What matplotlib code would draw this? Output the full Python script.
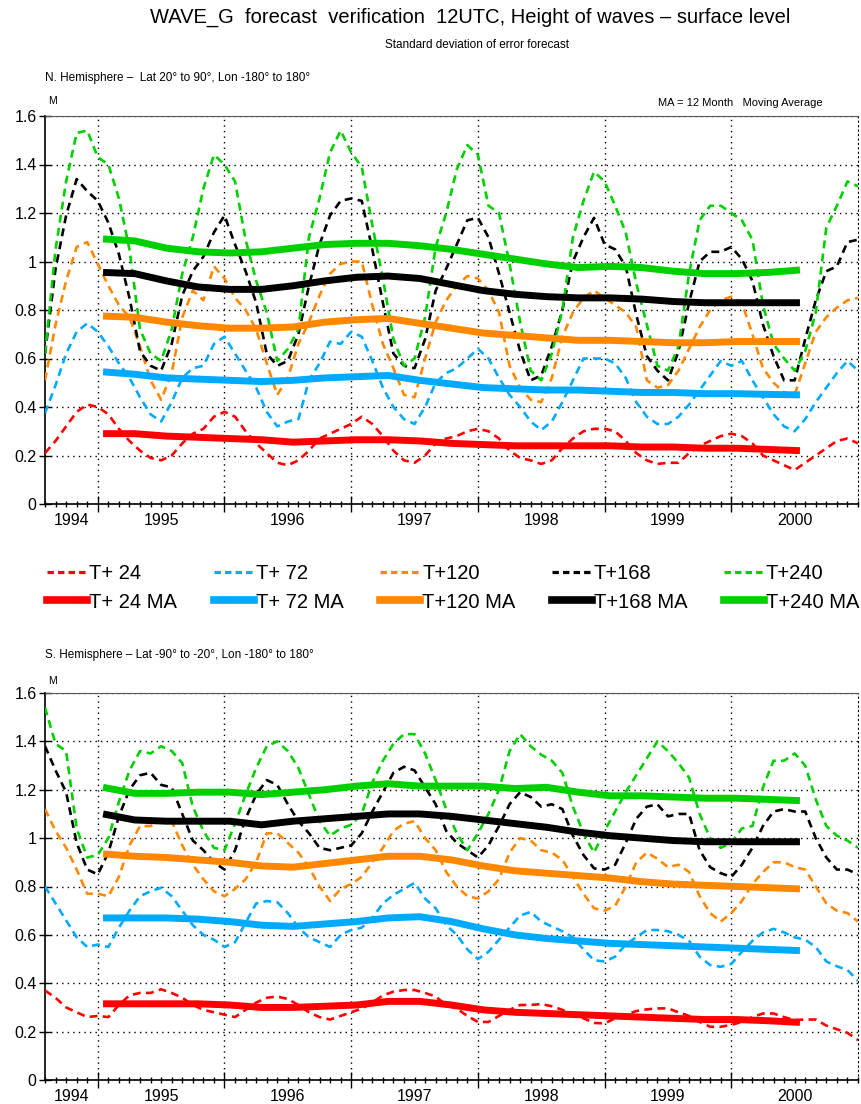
import numpy as np
import matplotlib
matplotlib.use('Agg')
import matplotlib.pyplot as plt
from matplotlib.lines import Line2D
from matplotlib.ticker import MultipleLocator

plt.rcParams['font.family'] = ['Liberation Sans', 'DejaVu Sans']

# ── Data: monthly values Aug 1994 .. Jan 2001 (78 months) ──────────────────────
START_YEAR, START_MONTH = 1994, 8
N_MONTHS = 78
STEPS = ['T+ 24', 'T+ 72', 'T+120', 'T+168', 'T+240']
COLORS = ['#ff0000', '#00aaff', '#ff8800', '#000000', '#00d000']

# N. Hemisphere
nh_t24 = [0.21, 0.26, 0.32, 0.38, 0.41, 0.40, 0.37, 0.31, 0.26, 0.22, 0.19, 0.18,
          0.20, 0.25, 0.29, 0.31, 0.36, 0.38, 0.36, 0.30, 0.25, 0.21, 0.17, 0.16,
          0.18, 0.22, 0.27, 0.29, 0.31, 0.33, 0.36, 0.33, 0.28, 0.22, 0.18, 0.17,
          0.20, 0.25, 0.27, 0.28, 0.30, 0.31, 0.30, 0.27, 0.22, 0.19, 0.18, 0.165,
          0.18, 0.23, 0.27, 0.30, 0.31, 0.31, 0.30, 0.26, 0.21, 0.18, 0.165, 0.17,
          0.17, 0.21, 0.24, 0.26, 0.28, 0.29, 0.28, 0.25, 0.20, 0.18, 0.16, 0.14,
          0.17, 0.20, 0.23, 0.26, 0.27, 0.25]
nh_t72 = [0.375, 0.49, 0.62, 0.71, 0.745, 0.71, 0.65, 0.58, 0.52, 0.44, 0.37, 0.34,
          0.42, 0.52, 0.56, 0.57, 0.66, 0.69, 0.62, 0.55, 0.48, 0.38, 0.32, 0.34,
          0.35, 0.51, 0.58, 0.67, 0.66, 0.71, 0.69, 0.59, 0.48, 0.40, 0.35, 0.33,
          0.40, 0.50, 0.54, 0.56, 0.60, 0.64, 0.60, 0.52, 0.45, 0.40, 0.34, 0.305,
          0.34, 0.42, 0.51, 0.60, 0.60, 0.60, 0.58, 0.52, 0.42, 0.36, 0.33, 0.33,
          0.36, 0.41, 0.47, 0.53, 0.59, 0.57, 0.59, 0.51, 0.44, 0.37, 0.32, 0.30,
          0.35, 0.42, 0.48, 0.54, 0.59, 0.55]
nh_t120 = [0.51, 0.74, 0.92, 1.06, 1.08, 0.99, 0.90, 0.82, 0.77, 0.65, 0.51, 0.43,
           0.54, 0.77, 0.88, 0.84, 0.98, 0.93, 0.85, 0.80, 0.72, 0.58, 0.45, 0.52,
           0.66, 0.75, 0.86, 0.95, 0.99, 1.00, 1.00, 0.82, 0.66, 0.56, 0.45, 0.44,
           0.60, 0.75, 0.84, 0.90, 0.94, 0.93, 0.88, 0.79, 0.57, 0.48, 0.43, 0.42,
           0.52, 0.69, 0.79, 0.85, 0.88, 0.85, 0.82, 0.79, 0.73, 0.51, 0.48, 0.49,
           0.55, 0.64, 0.73, 0.80, 0.84, 0.855, 0.83, 0.70, 0.56, 0.50, 0.46, 0.45,
           0.58, 0.71, 0.77, 0.81, 0.84, 0.85]
nh_t168 = [0.62, 0.97, 1.19, 1.34, 1.29, 1.25, 1.16, 1.03, 0.85, 0.63, 0.57, 0.55,
           0.66, 0.86, 0.96, 1.02, 1.12, 1.19, 1.07, 0.96, 0.83, 0.62, 0.57, 0.59,
           0.70, 0.90, 1.07, 1.19, 1.25, 1.26, 1.25, 1.05, 0.83, 0.62, 0.57, 0.56,
           0.68, 0.88, 0.97, 1.07, 1.17, 1.18, 1.10, 0.95, 0.79, 0.63, 0.51, 0.53,
           0.65, 0.80, 1.00, 1.10, 1.18, 1.07, 1.05, 0.98, 0.78, 0.61, 0.55, 0.51,
           0.63, 0.83, 1.00, 1.04, 1.04, 1.06, 1.01, 0.92, 0.74, 0.61, 0.51, 0.51,
           0.68, 0.84, 0.96, 0.98, 1.08, 1.09]
nh_t240 = [0.62, 1.05, 1.33, 1.53, 1.54, 1.43, 1.40, 1.26, 1.05, 0.72, 0.62, 0.59,
           0.72, 0.95, 1.10, 1.30, 1.44, 1.40, 1.33, 1.09, 0.92, 0.79, 0.59, 0.64,
           0.72, 1.10, 1.26, 1.45, 1.54, 1.45, 1.39, 1.15, 0.93, 0.68, 0.57, 0.60,
           0.77, 1.06, 1.20, 1.38, 1.48, 1.44, 1.23, 1.20, 0.99, 0.75, 0.55, 0.51,
           0.62, 0.80, 1.10, 1.25, 1.37, 1.33, 1.23, 1.12, 0.91, 0.74, 0.57, 0.55,
           0.65, 0.95, 1.17, 1.23, 1.23, 1.20, 1.17, 1.09, 0.82, 0.66, 0.60, 0.55,
           0.63, 0.79, 1.14, 1.23, 1.33, 1.31]

# 12-month moving averages, read every 3 months (centred, Feb 1995 .. Jul 2000)
nh_t24_ma = [0.29, 0.29, 0.28, 0.275, 0.27, 0.265, 0.255, 0.26, 0.265, 0.265, 0.26, 0.25,
             0.245, 0.24, 0.24, 0.24, 0.24, 0.235, 0.235, 0.23, 0.23, 0.225, 0.22]
nh_t72_ma = [0.545, 0.535, 0.52, 0.515, 0.51, 0.505, 0.51, 0.52, 0.525, 0.53, 0.51, 0.495,
             0.48, 0.475, 0.47, 0.47, 0.465, 0.46, 0.46, 0.455, 0.455, 0.452, 0.45]
nh_t120_ma = [0.775, 0.77, 0.75, 0.735, 0.725, 0.725, 0.73, 0.75, 0.76, 0.765, 0.745, 0.725,
              0.705, 0.695, 0.685, 0.675, 0.675, 0.67, 0.665, 0.665, 0.67, 0.67, 0.67]
nh_t168_ma = [0.955, 0.95, 0.92, 0.895, 0.885, 0.885, 0.90, 0.92, 0.935, 0.94, 0.93, 0.905,
              0.88, 0.865, 0.855, 0.85, 0.85, 0.845, 0.835, 0.83, 0.83, 0.83, 0.83]
nh_t240_ma = [1.093, 1.085, 1.055, 1.04, 1.035, 1.04, 1.055, 1.07, 1.075, 1.075, 1.065, 1.05,
              1.03, 1.01, 0.99, 0.975, 0.98, 0.975, 0.96, 0.95, 0.95, 0.955, 0.965]

# S. Hemisphere
sh_t24 = [0.37, 0.34, 0.30, 0.28, 0.26, 0.265, 0.26, 0.31, 0.35, 0.36, 0.36, 0.375,
          0.36, 0.34, 0.31, 0.29, 0.28, 0.27, 0.26, 0.29, 0.32, 0.34, 0.345, 0.335,
          0.31, 0.28, 0.26, 0.25, 0.265, 0.28, 0.295, 0.32, 0.35, 0.365, 0.372, 0.372,
          0.36, 0.345, 0.31, 0.295, 0.265, 0.24, 0.24, 0.265, 0.29, 0.31, 0.31, 0.314,
          0.305, 0.29, 0.27, 0.255, 0.236, 0.234, 0.255, 0.27, 0.285, 0.292, 0.296, 0.296,
          0.28, 0.265, 0.24, 0.22, 0.22, 0.228, 0.24, 0.26, 0.275, 0.275, 0.26, 0.248,
          0.25, 0.25, 0.225, 0.21, 0.195, 0.165]
sh_t72 = [0.80, 0.73, 0.66, 0.59, 0.55, 0.56, 0.55, 0.63, 0.70, 0.76, 0.78, 0.795,
          0.76, 0.70, 0.64, 0.60, 0.58, 0.55, 0.57, 0.65, 0.73, 0.74, 0.735, 0.69,
          0.63, 0.59, 0.57, 0.55, 0.60, 0.62, 0.63, 0.67, 0.73, 0.765, 0.79, 0.815,
          0.75, 0.71, 0.64, 0.60, 0.54, 0.50, 0.53, 0.58, 0.63, 0.68, 0.695, 0.655,
          0.635, 0.615, 0.59, 0.54, 0.495, 0.49, 0.51, 0.56, 0.59, 0.62, 0.62, 0.615,
          0.60, 0.575, 0.51, 0.475, 0.468, 0.48, 0.53, 0.575, 0.61, 0.625, 0.61, 0.59,
          0.58, 0.55, 0.49, 0.47, 0.455, 0.41]
sh_t120 = [1.12, 1.03, 0.96, 0.87, 0.77, 0.77, 0.76, 0.84, 0.97, 1.05, 1.05, 1.07,
           1.07, 0.97, 0.89, 0.83, 0.78, 0.76, 0.79, 0.83, 0.90, 1.02, 1.02, 0.98,
           0.94, 0.88, 0.80, 0.74, 0.79, 0.81, 0.84, 0.90, 0.96, 1.03, 1.06, 1.07,
           1.00, 0.95, 0.86, 0.80, 0.76, 0.75, 0.78, 0.83, 0.94, 1.00, 0.99, 0.95,
           0.94, 0.91, 0.84, 0.77, 0.71, 0.70, 0.72, 0.80, 0.90, 0.94, 0.915, 0.88,
           0.89, 0.86, 0.76, 0.69, 0.655, 0.69, 0.74, 0.81, 0.86, 0.90, 0.90, 0.88,
           0.87, 0.80, 0.73, 0.70, 0.69, 0.655]
sh_t168 = [1.38, 1.28, 1.19, 0.98, 0.87, 0.85, 0.94, 1.09, 1.20, 1.26, 1.27, 1.22,
           1.21, 1.10, 0.99, 0.95, 0.90, 0.87, 0.95, 1.08, 1.18, 1.24, 1.22, 1.14,
           1.07, 1.02, 0.96, 0.95, 0.96, 0.97, 1.02, 1.11, 1.19, 1.27, 1.295, 1.28,
           1.21, 1.14, 1.03, 0.98, 0.95, 0.92, 0.97, 1.05, 1.14, 1.19, 1.17, 1.13,
           1.14, 1.12, 1.01, 0.93, 0.875, 0.87, 0.89, 0.98, 1.08, 1.13, 1.14, 1.09,
           1.10, 1.10, 0.95, 0.88, 0.855, 0.84, 0.89, 0.96, 1.05, 1.11, 1.12, 1.11,
           1.11, 1.00, 0.92, 0.87, 0.87, 0.85]
sh_t240 = [1.54, 1.39, 1.36, 1.04, 0.92, 0.93, 1.00, 1.15, 1.28, 1.36, 1.35, 1.38,
           1.36, 1.31, 1.13, 1.03, 0.96, 0.95, 1.06, 1.18, 1.29, 1.38, 1.40, 1.36,
           1.29, 1.18, 1.07, 1.01, 1.04, 1.055, 1.10, 1.23, 1.32, 1.39, 1.43, 1.43,
           1.35, 1.24, 1.12, 1.02, 0.95, 1.02, 1.10, 1.20, 1.36, 1.43, 1.38, 1.345,
           1.32, 1.27, 1.13, 1.02, 0.94, 1.03, 1.11, 1.19, 1.26, 1.33, 1.40, 1.36,
           1.31, 1.25, 1.10, 1.00, 0.96, 0.98, 1.04, 1.05, 1.21, 1.32, 1.32, 1.35,
           1.30, 1.16, 1.05, 1.01, 0.99, 0.96]

sh_t24_ma = [0.315, 0.315, 0.315, 0.315, 0.31, 0.30, 0.30, 0.305, 0.31, 0.325, 0.325, 0.31,
             0.29, 0.28, 0.275, 0.27, 0.265, 0.26, 0.255, 0.25, 0.25, 0.245, 0.238]
sh_t72_ma = [0.67, 0.67, 0.67, 0.665, 0.655, 0.64, 0.635, 0.645, 0.655, 0.67, 0.675, 0.655,
             0.625, 0.60, 0.585, 0.575, 0.565, 0.56, 0.555, 0.55, 0.545, 0.54, 0.535]
sh_t120_ma = [0.935, 0.925, 0.92, 0.91, 0.90, 0.885, 0.88, 0.895, 0.91, 0.925, 0.925, 0.91,
              0.885, 0.865, 0.855, 0.845, 0.835, 0.82, 0.81, 0.805, 0.80, 0.795, 0.79]
sh_t168_ma = [1.10, 1.075, 1.07, 1.07, 1.07, 1.055, 1.07, 1.08, 1.09, 1.10, 1.10, 1.09,
              1.075, 1.06, 1.045, 1.025, 1.01, 1.00, 0.99, 0.985, 0.985, 0.985, 0.985]
sh_t240_ma = [1.21, 1.185, 1.185, 1.19, 1.19, 1.18, 1.19, 1.20, 1.215, 1.225, 1.215, 1.215,
              1.215, 1.205, 1.21, 1.19, 1.175, 1.175, 1.17, 1.165, 1.165, 1.16, 1.155]

YEARS = [1994, 1995, 1996, 1997, 1998, 1999, 2000]
Y_TICKS = [0, 0.2, 0.4, 0.6, 0.8, 1.0, 1.2, 1.4, 1.6]
Y_LABELS = ['0', '0.2', '0.4', '0.6', '0.8', '1', '1.2', '1.4', '1.6']

# ── Time axes (decimal years) ─────────────────────────────────────────────────
t0 = START_YEAR + (START_MONTH - 1) / 12
t_month = t0 + np.arange(N_MONTHS) / 12
t_ma = t0 + np.arange(5.5, 72, 3) / 12
t_end = t_month[-1]


def draw_panel(ax, raw, ma):
    for vals, col in zip(raw, COLORS):
        ax.plot(t_month, vals, color=col, lw=1.9, ls=(0, (3, 2)),
                dash_capstyle='butt', zorder=3)
    for vals, col in zip(ma, COLORS):
        ax.plot(t_ma, vals, color=col, lw=5.0, solid_capstyle='butt', zorder=4)

    ax.set_xlim(t0, t_end)
    ax.set_ylim(0, 1.6)
    ax.set_yticks(Y_TICKS)
    ax.set_yticklabels(Y_LABELS)
    ax.set_xticks(np.arange(1995, 2001))
    ax.set_xticklabels([])
    ax.xaxis.set_minor_locator(MultipleLocator(1 / 12))
    ax.tick_params(axis='x', which='major', direction='inout', length=12, width=1)
    ax.tick_params(axis='x', which='minor', direction='inout', length=5, width=1)
    ax.tick_params(axis='y', which='major', direction='inout', length=8, width=1,
                   labelsize=11.5, pad=2)
    ax.grid(True, which='major', color='black', ls=(0, (1, 3)), lw=1)
    ax.spines['left'].set_linewidth(1.2)
    ax.spines['bottom'].set_linewidth(1.2)
    ax.spines['top'].set_color('#555555')
    ax.spines['right'].set_linestyle((0, (1, 3)))
    # year labels centred in each year span
    for yr in YEARS:
        lo, hi = max(yr, t0), min(yr + 1, t_end)
        ax.text((lo + hi) / 2, -0.022, str(yr), transform=ax.get_xaxis_transform(),
                ha='center', va='top', fontsize=11.5)


fig = plt.figure(figsize=(8.61, 11.04), dpi=100)

ax1 = fig.add_axes([45 / 861, 1 - 504 / 1104, 813 / 861, 388 / 1104])
draw_panel(ax1, [nh_t24, nh_t72, nh_t120, nh_t168, nh_t240],
           [nh_t24_ma, nh_t72_ma, nh_t120_ma, nh_t168_ma, nh_t240_ma])

ax2 = fig.add_axes([45 / 861, 1 - 1080 / 1104, 813 / 861, 387 / 1104])
draw_panel(ax2, [sh_t24, sh_t72, sh_t120, sh_t168, sh_t240],
           [sh_t24_ma, sh_t72_ma, sh_t120_ma, sh_t168_ma, sh_t240_ma])

# ── Texts ─────────────────────────────────────────────────────────────────────
fig.text(470 / 861, 1 - 17 / 1104,
         'WAVE_G  forecast  verification  12UTC, Height of waves \u2013 surface level',
         ha='center', va='center', fontsize=14.5)
fig.text(477 / 861, 1 - 45 / 1104, 'Standard deviation of error forecast',
         ha='center', va='center', fontsize=8.5)
fig.text(45 / 861, 1 - 78 / 1104,
         'N. Hemisphere \u2013  Lat 20\u00b0 to 90\u00b0, Lon -180\u00b0 to 180\u00b0',
         ha='left', va='center', fontsize=8.5)
fig.text(48 / 861, 1 - 101 / 1104, 'M', ha='left', va='center', fontsize=7.5)
fig.text(823 / 861, 1 - 103 / 1104, 'MA = 12 Month   Moving Average',
         ha='right', va='center', fontsize=8)
fig.text(45 / 861, 1 - 655 / 1104,
         'S. Hemisphere \u2013 Lat -90\u00b0 to -20\u00b0, Lon -180\u00b0 to 180\u00b0',
         ha='left', va='center', fontsize=8.5)
fig.text(48 / 861, 1 - 681 / 1104, 'M', ha='left', va='center', fontsize=7.5)

# ── Legend ────────────────────────────────────────────────────────────────────
handles = []
for step, col in zip(STEPS, COLORS):
    handles.append(Line2D([], [], color=col, lw=2.3, ls=(0, (2, 1.3)), label=step))
    handles.append(Line2D([], [], color=col, lw=5.5, label=step + ' MA'))
fig.legend(handles=handles, ncol=5, loc='center left',
           bbox_to_anchor=(29 / 861, 1 - 588 / 1104), frameon=False,
           fontsize=14.5, handlelength=2.0, handletextpad=0.1, borderpad=0.4,
           columnspacing=1.8, labelspacing=0.45)

fig.savefig('out.png', dpi=100)
